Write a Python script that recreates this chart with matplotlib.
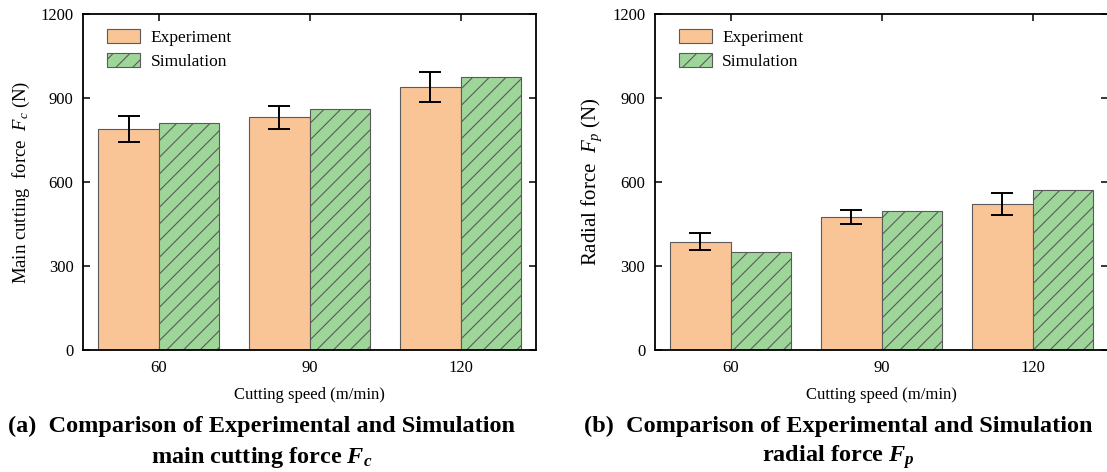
import matplotlib
matplotlib.use("Agg")
import matplotlib.pyplot as plt
import numpy as np

plt.rcParams["font.family"] = ["Liberation Serif", "DejaVu Serif"]
plt.rcParams["mathtext.fontset"] = "custom"
plt.rcParams["mathtext.rm"] = "Liberation Serif"
plt.rcParams["mathtext.it"] = "Liberation Serif:italic"
plt.rcParams["mathtext.bf"] = "Liberation Serif:bold:italic"
plt.rcParams["hatch.linewidth"] = 0.8
plt.rcParams["hatch.color"] = "#222222"

# Data
speeds = ["60", "90", "120"]
fc_exp = [790, 831, 940]
fc_exp_err = [47, 40, 53]
fc_sim = [810, 861, 975]
fp_exp = [387, 474, 521]
fp_exp_err = [30, 25, 40]
fp_sim = [350, 498, 573]

exp_color = "#F9C597"
sim_color = "#9ED69A"
edge_color = "#5a5a5a"

fig = plt.figure(figsize=(11.07, 4.72), dpi=100)
ax1 = fig.add_axes([83.3 / 1107, 122 / 472, 452.7 / 1107, 336 / 472])
ax2 = fig.add_axes([655 / 1107, 122 / 472, 453 / 1107, 336 / 472])


def draw(ax, exp, err, sim, ylabel, ylabel_size):
    x = np.arange(len(speeds))
    w = 0.4
    ax.bar(x - w / 2, exp, w, color=exp_color, edgecolor=edge_color,
           linewidth=0.8, label="Experiment", zorder=2)
    ax.bar(x + w / 2, sim, w, color=sim_color, edgecolor=edge_color,
           linewidth=0.8, hatch="//", label="Simulation", zorder=2)
    ax.errorbar(x - w / 2, exp, yerr=err, fmt="none", ecolor="black",
                elinewidth=1.4, capsize=8, capthick=1.4, zorder=3)
    ax.set_xlim(-0.5, 2.5)
    ax.set_ylim(0, 1200)
    ax.set_yticks([0, 300, 600, 900, 1200])
    ax.set_xticks(x)
    ax.set_xticklabels(speeds)
    ax.tick_params(direction="in", top=True, right=True, length=5,
                   width=1.1, labelsize=12, pad=7)
    for s in ax.spines.values():
        s.set_linewidth(1.3)
    ax.set_xlabel("Cutting speed (m/min)", fontsize=12, labelpad=8)
    ax.set_ylabel(ylabel, fontsize=ylabel_size, labelpad=6)
    ax.legend(loc="upper left", frameon=False, fontsize=12.5,
              handlelength=1.9, handleheight=0.9, borderaxespad=0.45,
              labelspacing=0.38, handletextpad=0.6,
              bbox_to_anchor=(0.02, 1.0))


draw(ax1, fc_exp, fc_exp_err, fc_sim, "Main cutting  force  $F_c$ (N)", 13.5)
draw(ax2, fp_exp, fp_exp_err, fp_sim, "Radial force  $F_p$ (N)", 15)

cap_kw = dict(ha="center", va="center", fontsize=17.5, fontweight="bold")
fig.text(262 / 1107, 1 - 426 / 472,
         "(a)  Comparison of Experimental and Simulation", **cap_kw)
fig.text(262 / 1107, 1 - 457 / 472,
         "main cutting force $\\mathbf{F_c}$", **cap_kw)
fig.text(838 / 1107, 1 - 426 / 472,
         "(b)  Comparison of Experimental and Simulation", **cap_kw)
fig.text(838 / 1107, 1 - 457 / 472,
         "radial force $\\mathbf{F_p}$", **cap_kw)

fig.savefig("out.png", dpi=100)
